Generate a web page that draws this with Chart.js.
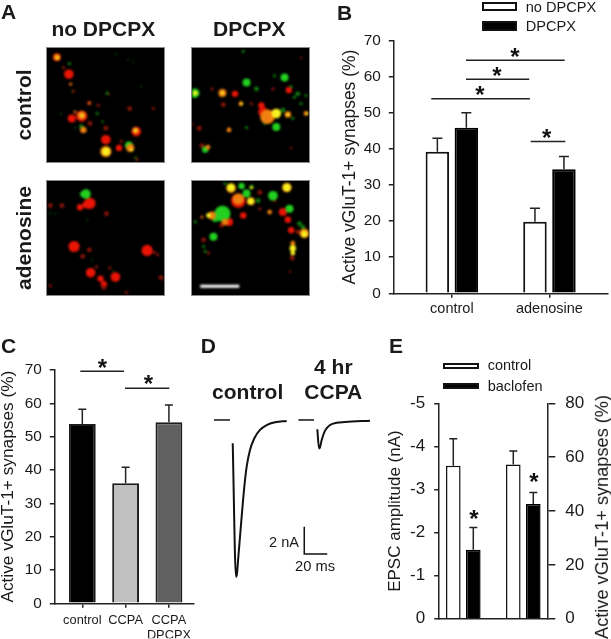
<!DOCTYPE html>
<html>
<head>
<meta charset="utf-8">
<script src="https://cdn.jsdelivr.net/npm/chart.js@4"></script>
<style>
  html, body { margin: 0; background: #fff; }
  #page { position: relative; width: 611px; height: 639px; overflow: hidden; }
  #page canvas.full { position: absolute; left: 0; top: 0; }
  .txt { position: absolute; white-space: nowrap; line-height: 1; color: #1a1a1a; font-family: "Liberation Sans", Arial, sans-serif; }
  .swatch { position: absolute; box-sizing: border-box; border: 2px solid #111; }
  .img { position: absolute; box-sizing: border-box; border: 1px solid #8a8a8a; background: #000; overflow: hidden; }
  .img canvas { filter: blur(1.1px); }
</style>
</head>
<body>
<div id="page"></div>
<script>
const a1Yellow = [[179,316,5],[32,30,2],[106,207,2],[268,252,2],[255,310,2]];
const a1Orange = [[30,28,4],[105,205,5],[268,252,4],[178,316,7],[252,305,5],[110,250,4],[72,110,2],[128,168,2],[85,195,2]];
const a1Green = [[248,298,5],[104,240,3],[68,48,2],[182,138,2],[152,200,2],[168,225,1.5],[85,243,1],[42,202,1],[245,35,1],[260,42,1],[285,118,1],[210,18,1],[75,132,1],[268,335,1.5]];
const a1Red = [[66,80,6],[178,280,6],[75,215,5],[130,230,3],[128,168,3],[155,175,2],[250,185,3],[322,185,2],[218,305,4],[178,245,3],[270,255,6],[105,208,7],[30,28,5],[70,110,2],[80,132,2],[185,140,2],[272,340,2],[225,285,2],[50,60,2]];

const a2Yellow = [[10,138,3],[92,137,2],[150,170,1.5],[255,200,6],[348,200,1.5],[290,203,2]];
const a2Orange = [[92,137,5],[148,170,3],[228,210,9],[290,203,4],[345,200,3],[112,250,3],[48,303,3]];
const a2Green = [[8,138,6],[255,241,5],[165,105,5],[280,90,5],[155,10,2],[195,125,3],[250,85,2],[300,118,2],[320,140,3],[345,145,2],[310,150,2],[330,170,2],[220,230,2],[165,243,2],[275,190,3],[305,215,2],[40,310,4]];
const a2Red = [[130,140,4],[60,125,2],[95,173,3],[210,175,4],[180,170,2],[215,195,6],[240,205,6],[293,128,4],[245,125,2],[330,30,1.5],[22,245,3],[0,232,2],[30,298,3],[300,305,1.5]];

const a3Yellow = [];
const a3Orange = [];
const a3Green = [[118,40,6],[110,40,4],[10,98,1],[25,100,1],[122,118,1],[137,240,1],[200,275,1]];
const a3Red = [[130,68,7],[120,72,5],[100,80,4],[82,200,7],[303,212,7],[207,293,6],[132,280,6],[162,298,4],[108,230,3],[172,315,4],[128,210,3],[180,100,3],[345,295,3],[325,218,2],[45,75,3],[10,75,3],[190,265,2],[150,262,2],[172,325,3],[240,340,2],[10,320,2],[335,225,2]];

const a4Yellow = [[305,205,4],[305,220,3],[118,20,5],[287,20,5],[178,62,4],[50,105,3],[340,162,4],[180,20,2]];
const a4Orange = [[60,105,5],[30,110,2],[118,22,6],[287,20,6],[340,160,6],[305,190,3],[235,95,3],[140,55,7],[100,125,4],[178,62,5]];
const a4Green = [[92,100,10],[70,115,4],[65,170,5],[245,45,6],[295,85,5],[150,15,4],[165,38,5],[100,8,2],[325,130,3],[335,140,3],[200,60,3],[10,125,2],[35,200,2],[40,215,2],[180,18,3]];
const a4Red = [[140,60,9],[275,95,5],[290,118,4],[155,105,4],[205,35,3],[112,125,5],[300,150,4],[320,155,3],[35,180,3],[50,220,2],[303,235,3],[297,277,1.5],[205,85,2],[250,60,2],[90,135,3]];
const a4ScaleBar = [{x:25,y:321},{x:143,y:321}];

// panel B
const bCategories = ['control', 'adenosine'];
const bGroupX = [1, 2];
const bNoDpcpx = [39.2, 19.8];
const bDpcpx = [45.9, 34.4];
const bNoDpcpxErr = [43, 23.6];
const bDpcpxErr = [50, 37.9];
const bSigBars = [[1.145,2.156,64.6],[1.145,1.793,59.3],[0.789,1.80,53.9],[1.808,2.162,42.1]];
const bStars = [[1.647,67.1],[1.462,61.9],[1.288,56.6],[1.972,44.7]];

// panel C
const cCategories = ['control', 'CCPA', ['CCPA', 'DPCPX']];
const cGroupX = [1, 2, 3];
const cValues = [53.8, 36, 54.3];
const cErr = [58.2, 40.8, 59.5];
const cSigBars = [[0.954,1.963,69.6],[1.986,3.009,64.5]];
const cStars = [[1.462,72.3],[2.524,67.5]];

// panel D, time in ms, current in nA
const dControlT = [24.1,26.96,27.83,29,30.43,31.88,34.2,36.23,39.13,42.9,47.83,53.62,60.87,71];
const dControlI = [-1.71,-11.48,-11.23,-10.01,-8.55,-7.08,-4.88,-3.42,-2.2,-1.34,-0.73,-0.37,-0.17,-0.07];
const dCcpaT = [97.68,99.13,100,101.45,104.35,108.7,114.5,121.7,143.5];
const dCcpaI = [-0.68,-2.08,-2,-1.47,-0.78,-0.37,-0.2,-0.15,-0.05];
const dDashControlT = [7.8,21.7];
const dDashCcpaT = [81.2,94.8];
const dDashI = [0,0];
const dScaleT = [86.3,86.3,106.3];
const dScaleI = [-7.82,-9.82,-9.82];

// panel E
const eX = [1, 2, 4, 5];
const eEpsc = [-3.55, -1.6];
const eEpscErr = [-4.18, -2.12];
const eSyn = [57.3, 42.6];
const eSynErr = [62.3, 46.9];

const ink = '#1a1a1a';
const fam = '"Liberation Sans", Arial, sans-serif';
const page = document.getElementById('page');

function addText(str, x, y, size, bold, rot) {
  const d = document.createElement('div');
  d.className = 'txt';
  d.textContent = str;
  d.style.left = x + 'px';
  d.style.top = y + 'px';
  d.style.fontSize = size + 'px';
  if (bold) d.style.fontWeight = 'bold';
  d.style.transform = 'translate(-50%,-50%)' + (rot ? ' rotate(' + rot + 'deg)' : '');
  page.appendChild(d);
}
function addLabel(str, x, y, size) {
  const d = document.createElement('div');
  d.className = 'txt';
  d.textContent = str;
  d.style.left = x + 'px';
  d.style.top = (y - size / 2) + 'px';
  d.style.fontSize = size + 'px';
  page.appendChild(d);
}
function addSwatch(x, y, w, h, fill) {
  const d = document.createElement('div');
  d.className = 'swatch';
  d.style.cssText += 'left:' + x + 'px;top:' + y + 'px;width:' + w + 'px;height:' + h + 'px;background:' + fill;
  page.appendChild(d);
}
function fullCanvas() {
  const c = document.createElement('canvas');
  c.className = 'full';
  c.width = 611;
  c.height = 639;
  page.appendChild(c);
  return c;
}

// error bars, significance lines and stars
const marks = {
  id: 'marks',
  afterDatasetsDraw(chart, args, opts) {
    const ctx = chart.ctx;
    ctx.save();
    ctx.strokeStyle = '#222';
    ctx.fillStyle = '#111';
    ctx.lineWidth = opts.errWidth || 1.5;
    (opts.errs || []).forEach((errs, d) => {
      const meta = chart.getDatasetMeta(d);
      meta.data.forEach((bar, i) => {
        const top = meta.yScale.getPixelForValue(errs[i]);
        ctx.beginPath();
        ctx.moveTo(bar.x, bar.y);
        ctx.lineTo(bar.x, top);
        ctx.moveTo(bar.x - opts.cap, top);
        ctx.lineTo(bar.x + opts.cap, top);
        ctx.stroke();
      });
    });
    const xs = chart.scales.x;
    (opts.sig || []).forEach(s => {
      const py = chart.scales.y.getPixelForValue(s[2]);
      ctx.beginPath();
      ctx.moveTo(xs.getPixelForValue(s[0]), py);
      ctx.lineTo(xs.getPixelForValue(s[1]), py);
      ctx.stroke();
    });
    ctx.font = 'bold 24px ' + fam;
    ctx.textAlign = 'center';
    (opts.stars || []).forEach(s => {
      const scale = chart.scales[s[2] || 'y'];
      ctx.fillText('*', xs.getPixelForValue(s[0]), scale.getPixelForValue(s[1]) + 24 * 0.58);
    });
    ctx.restore();
  }
};

function fixed(size) {
  return s => {
    if (s.isHorizontal()) s.height = size; else s.width = size;
  };
}
function yAxis(max, step, width, size, title, titleSize, pad, tickLen) {
  return {
    min: 0, max: max,
    afterFit: fixed(width),
    ticks: { stepSize: step, color: ink, padding: pad, font: { family: fam, size: size } },
    border: { color: '#222', width: 1.5 },
    grid: { drawOnChartArea: false, color: '#222', lineWidth: 1.5, tickLength: tickLen },
    title: { display: !!title, text: title, color: ink, padding: { top: 0, bottom: 0 }, font: { family: fam, size: titleSize, lineHeight: 1 } }
  };
}
function groupAxis(min, max, height, positions, labels, size, pad) {
  return {
    type: 'linear', min: min, max: max, offset: false,
    afterFit: fixed(height),
    afterBuildTicks: s => { s.ticks = positions.map(v => ({ value: v })); },
    ticks: { autoSkip: false, maxRotation: 0, color: ink, padding: pad, font: { family: fam, size: size }, callback: (v, i) => labels[i] },
    border: { color: '#222', width: 1.5 },
    grid: { offset: false, drawOnChartArea: false, color: '#222', lineWidth: 1.5, tickLength: 4.5 }
  };
}
function pts(xs, ys) { return xs.map((x, i) => ({ x: x, y: ys[i] })); }

// panel A
const images = [
  [46, 47, [a1Yellow, a1Orange, a1Green, a1Red]],
  [191, 47, [a2Yellow, a2Orange, a2Green, a2Red]],
  [46, 180, [a3Yellow, a3Orange, a3Green, a3Red]],
  [191, 180, [a4Yellow, a4Orange, a4Green, a4Red]]
];
images.forEach((im, n) => {
  const box = document.createElement('div');
  box.className = 'img';
  box.style.cssText += 'left:' + im[0] + 'px;top:' + im[1] + 'px;width:119px;height:116px';
  const c = document.createElement('canvas');
  c.width = 117;
  c.height = 114;
  box.appendChild(c);
  page.appendChild(box);
  const spot = (list, bright, dark, cut) => ({
    data: list.map(s => ({ x: s[0], y: s[1], r: s[2] * 0.8 })),
    backgroundColor: ctx => (ctx.raw && ctx.raw.r <= cut * 0.8 ? dark : bright),
    borderWidth: 0
  });
  const sets = [
    spot(im[2][0], '#f8f020', '#e8d820', 0),
    spot(im[2][1], '#f08010', '#d06010', 2),
    spot(im[2][2], '#22d020', '#107a10', 3),
    spot(im[2][3], '#ea1405', '#8a1508', 3)
  ];
  if (n === 3) sets.unshift({ type: 'line', data: a4ScaleBar, borderColor: '#fff', borderWidth: 3, pointRadius: 0 });
  new Chart(c, {
    type: 'bubble',
    data: { datasets: sets },
    options: {
      responsive: false, animation: false, devicePixelRatio: 1,
      layout: { padding: 0, autoPadding: false },
      plugins: { legend: { display: false }, tooltip: { enabled: false } },
      scales: {
        x: { type: 'linear', min: 0, max: 354, display: false },
        y: { type: 'linear', min: 0, max: 348, reverse: true, display: false }
      }
    }
  });
});

// panel B
new Chart(fullCanvas(), {
  type: 'bar',
  data: {
    datasets: [
      { data: pts(bGroupX, bNoDpcpx), backgroundColor: '#fff', borderColor: '#111', borderWidth: 2 },
      { data: pts(bGroupX, bDpcpx), backgroundColor: '#000', borderColor: '#000', borderWidth: 2 }
    ]
  },
  options: {
    responsive: false, animation: false, devicePixelRatio: 1,
    categoryPercentage: 0.594, barPercentage: 0.81,
    layout: { padding: { left: 341.25, top: 40.7, right: 3, bottom: 639 - 293.3 - 30 } },
    plugins: {
      legend: { display: false }, tooltip: { enabled: false },
      marks: { errs: [bNoDpcpxErr, bDpcpxErr], cap: 5, sig: bSigBars, stars: bStars }
    },
    scales: {
      x: groupAxis(0.4, 2.6, 30, bGroupX, bCategories, 14.5, 2),
      y: yAxis(70, 10, 52.05, 15.4, 'Active vGluT-1+ synapses (%)', 17.5, 8, 4.5)
    }
  },
  plugins: [marks]
});

// panel C
new Chart(fullCanvas(), {
  type: 'bar',
  data: {
    datasets: [{
      data: pts(cGroupX, cValues),
      backgroundColor: ['#000', '#c0c0c0', '#606060'],
      borderColor: '#1c1c1c',
      borderWidth: 2
    }]
  },
  options: {
    responsive: false, animation: false, devicePixelRatio: 1,
    categoryPercentage: 1, barPercentage: 0.62,
    layout: { padding: { left: 0, top: 370, right: 611 - 193.3, bottom: 639 - 603.3 - 35 } },
    plugins: {
      legend: { display: false }, tooltip: { enabled: false },
      marks: { errs: [cErr], cap: 4, sig: cSigBars, stars: cStars }
    },
    scales: {
      x: groupAxis(0.353, 3.563, 35, cGroupX, cCategories, 12.8, 5),
      y: yAxis(70, 10, 54.3, 15.4, 'Active vGluT-1+ synapses (%)', 17.3, 8, 4.5)
    }
  },
  plugins: [marks]
});

// panel D
const traceLine = { showLine: true, pointRadius: 0, borderColor: '#111', borderWidth: 2 };
new Chart(fullCanvas(), {
  type: 'scatter',
  data: {
    datasets: [
      { ...traceLine, data: pts(dControlT, dControlI), cubicInterpolationMode: 'monotone' },
      { ...traceLine, data: pts(dCcpaT, dCcpaI), cubicInterpolationMode: 'monotone' },
      { ...traceLine, data: pts(dDashControlT, dDashI), borderWidth: 1.5 },
      { ...traceLine, data: pts(dDashCcpaT, dDashI), borderWidth: 1.5 },
      { ...traceLine, data: pts(dScaleT, dScaleI), borderWidth: 1.5 }
    ]
  },
  options: {
    responsive: false, animation: false, devicePixelRatio: 1,
    layout: { padding: { left: 205, top: 410, right: 611 - 385, bottom: 639 - 590 }, autoPadding: false },
    plugins: { legend: { display: false }, tooltip: { enabled: false } },
    scales: {
      x: { type: 'linear', min: 0, max: 156.5, display: false },
      y: { type: 'linear', min: -12.45, max: 0.73, display: false }
    }
  }
});

// panel E
const eLeft = yAxis(-5, 1, 52.2, 17, 'EPSC amplitude (nA)', 17, 9, 4.5);
eLeft.min = -5;
eLeft.max = 0;
eLeft.reverse = true;
const eRight = yAxis(80, 20, 40, 17, '', 14, 10, 8);
eRight.position = 'right';
const eBarX = groupAxis(0.27, 5.7, 1, eX, [], 10, 0);
eBarX.afterBuildTicks = s => { s.ticks = []; };
eBarX.ticks.display = false;
eBarX.grid.drawTicks = false;
new Chart(fullCanvas(), {
  type: 'bar',
  data: {
    datasets: [
      { data: [{ x: eX[0], y: eEpsc[0] }], yAxisID: 'y', grouped: false, backgroundColor: '#fff', borderColor: '#111', borderWidth: 1.5 },
      { data: [{ x: eX[1], y: eEpsc[1] }], yAxisID: 'y', grouped: false, backgroundColor: '#000', borderColor: '#000', borderWidth: 1.5 },
      { data: [{ x: eX[2], y: eSyn[0] }], yAxisID: 'y1', grouped: false, backgroundColor: '#fff', borderColor: '#111', borderWidth: 1.5 },
      { data: [{ x: eX[3], y: eSyn[1] }], yAxisID: 'y1', grouped: false, backgroundColor: '#000', borderColor: '#000', borderWidth: 1.5 }
    ]
  },
  options: {
    responsive: false, animation: false, devicePixelRatio: 1,
    categoryPercentage: 1, barPercentage: 0.73,
    layout: { padding: { left: 386.5, top: 403.3, right: 611 - 547.3 - 40, bottom: 639 - 626.7 - 1 } },
    plugins: {
      legend: { display: false }, tooltip: { enabled: false },
      marks: {
        errs: [[eEpscErr[0]], [eEpscErr[1]], [eSynErr[0]], [eSynErr[1]]],
        cap: 4,
        stars: [[2.03, -2.46, 'y'], [5.03, 52.8, 'y1']]
      }
    },
    scales: { x: eBarX, y: eLeft, y1: eRight }
  },
  plugins: [marks]
});

// headings and legends
addText('A', 8.5, 11, 21, true);
addText('B', 344.7, 11.7, 21, true);
addText('C', 8.7, 345, 21, true);
addText('D', 208.4, 345, 21, true);
addText('E', 396, 345, 21, true);
addText('no DPCPX', 103.3, 28.3, 21, true);
addText('DPCPX', 249.3, 28.3, 21, true);
addText('control', 23.3, 105, 21, true, -90);
addText('adenosine', 23.3, 237.5, 21, true, -90);
addText('control', 247.7, 390.7, 21, true);
addText('4 hr', 333.3, 366, 21, true);
addText('CCPA', 333.3, 390.7, 21, true);
addText('2 nA', 284, 541.7, 14.5);
addText('20 ms', 315, 565.7, 14.7);
addText('Active vGluT-1+ synapses (%)', 601.7, 516.5, 18.2, false, -90);

addSwatch(482.3, 2, 34.4, 8.7, '#fff');
addSwatch(482.3, 21.3, 34.4, 9.4, '#000');
addLabel('no DPCPX', 525.7, 7, 14.6);
addLabel('DPCPX', 525.7, 26.5, 14.6);
addSwatch(443.3, 362.7, 36, 6.6, '#fff');
addSwatch(443.3, 382.7, 36, 6.6, '#000');
addLabel('control', 487.7, 365.7, 14.5);
addLabel('baclofen', 487.7, 386.7, 14.5);
</script>
</body>
</html>
